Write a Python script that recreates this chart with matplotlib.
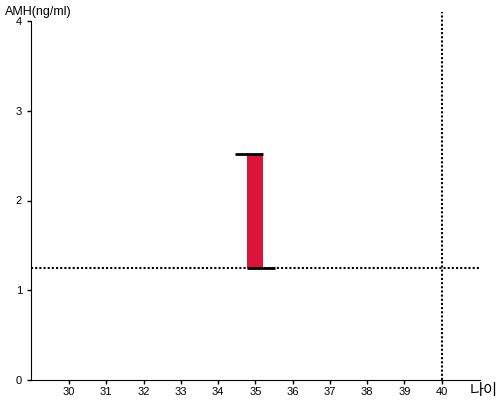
import matplotlib.pyplot as plt

plt.rcParams['font.family'] = ['Liberation Sans', 'Noto Sans CJK KR', 'DejaVu Sans']

# 데이터
age_ticks = [30, 31, 32, 33, 34, 35, 36, 37, 38, 39, 40]
amh_ticks = [0, 1, 2, 3, 4]
bar_age = 35
amh_low = 1.25
amh_high = 2.52
ref_amh = 1.25
ref_age = 40

fig = plt.figure(figsize=(5, 4), dpi=100)
ax = fig.add_axes([0.062, 0.05, 0.898, 0.8975])

# 막대
ax.bar(bar_age, amh_high - amh_low, bottom=amh_low, width=0.43,
       color='#DC143C', zorder=2)
# 위/아래 가로선
ax.hlines(amh_high, bar_age - 0.54, bar_age + 0.21, colors='black', lw=2, zorder=3)
ax.hlines(amh_low, bar_age - 0.21, bar_age + 0.54, colors='black', lw=2, zorder=3)

# 기준선
ax.axhline(ref_amh, color='black', lw=1.5, ls=(0, (1, 1)), zorder=1)
ax.plot([ref_age, ref_age], [0, 4.1], color='black', lw=1.5, ls=(0, (1, 1)),
        clip_on=False, zorder=1)

ax.set_xlim(28.98, 41.03)
ax.set_ylim(0, 4)
ax.set_xticks(age_ticks)
ax.set_yticks(amh_ticks)
ax.tick_params(labelsize=8, length=3, width=1)
ax.tick_params(axis='x', pad=2)
ax.spines['top'].set_visible(False)
ax.spines['right'].set_visible(False)

fig.text(0.01, 0.985, 'AMH(ng/ml)', fontsize=9, va='top', ha='left')
fig.text(0.995, 0.022, '나이', fontsize=11, va='center', ha='right')

fig.savefig('out.png')
